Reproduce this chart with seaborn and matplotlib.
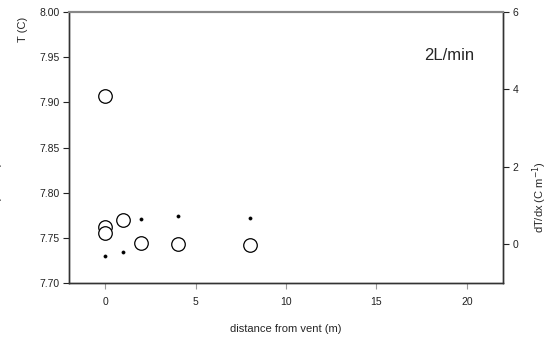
import matplotlib
matplotlib.use("Agg")
import matplotlib.pyplot as plt
import seaborn as sns
import pandas as pd

dist_T = [0, 0, 0, 1, 2, 4, 8]
temp_T = [7.907, 7.762, 7.755, 7.770, 7.744, 7.743, 7.742]
dist_grad = [0, 1, 2, 4, 8]
grad = [-0.31, -0.21, 0.65, 0.72, 0.68]
x_ticks = [0, 5, 10, 15, 20]
y_ticks = [7.70, 7.75, 7.80, 7.85, 7.90, 7.95, 8.00]
y2_ticks = [0, 2, 4, 6]

sns.set_style("ticks")
plt.rcParams['font.family'] = ['Liberation Sans', 'DejaVu Sans']

fig = plt.figure(figsize=(5.54, 3.41), dpi=100)
ax = fig.add_axes([69/554, 1-283/341, (503-69)/554, (283-12)/341])
ax2 = ax.twinx()

dfT = pd.DataFrame({"d": dist_T, "T": temp_T})
dfG = pd.DataFrame({"d": dist_grad, "g": grad})

sns.scatterplot(data=dfT, x="d", y="T", ax=ax, s=95, facecolor="white",
                edgecolor="black", linewidth=0.9, zorder=3, clip_on=False)
sns.scatterplot(data=dfG, x="d", y="g", ax=ax2, s=5, color="black",
                edgecolor="black", linewidth=0.5, zorder=3)

ax.set_xlim(-2, 22)
ax.set_ylim(7.70, 8.00)
ax2.set_ylim(-1, 6)
ax.set_xticks(x_ticks)
ax.set_yticks(y_ticks)
ax.set_yticklabels([f"{v:.2f}" for v in y_ticks])
ax2.set_yticks(y2_ticks)

for a in (ax, ax2):
    a.tick_params(labelsize=7.5, length=4, width=0.8, colors="#222222", pad=3)
    for s in a.spines.values():
        s.set_linewidth(1.0)
        s.set_color("#333333")
    a.spines["top"].set_visible(True)
    a.spines["top"].set_color("#888888")
    a.spines["top"].set_linewidth(1.5)
ax.tick_params(axis="x", colors="#999999", labelcolor="#222222", pad=6)
ax2.spines["right"].set_visible(True)

ax.set_xlabel("distance from vent (m)", fontsize=8, labelpad=12)
ax.set_ylabel("")
ax2.set_ylabel("")
fig.text(23/554, 1-29/341, "T (C)", rotation=90, fontsize=8, ha="center", va="center")
fig.text(540/554, 1-197/341, "dT/dx (C m$^{-1}$)", rotation=90, fontsize=8,
         ha="center", va="center")
fig.text(-3/554, 1-197/341, "dT/dx (C m$^{-1}$)", rotation=90, fontsize=8,
         ha="center", va="center")
ax.text(449/554, 1-55/341, "2L/min", transform=fig.transFigure, fontsize=12,
        ha="center", va="center")

fig.savefig("out.png", dpi=100)
